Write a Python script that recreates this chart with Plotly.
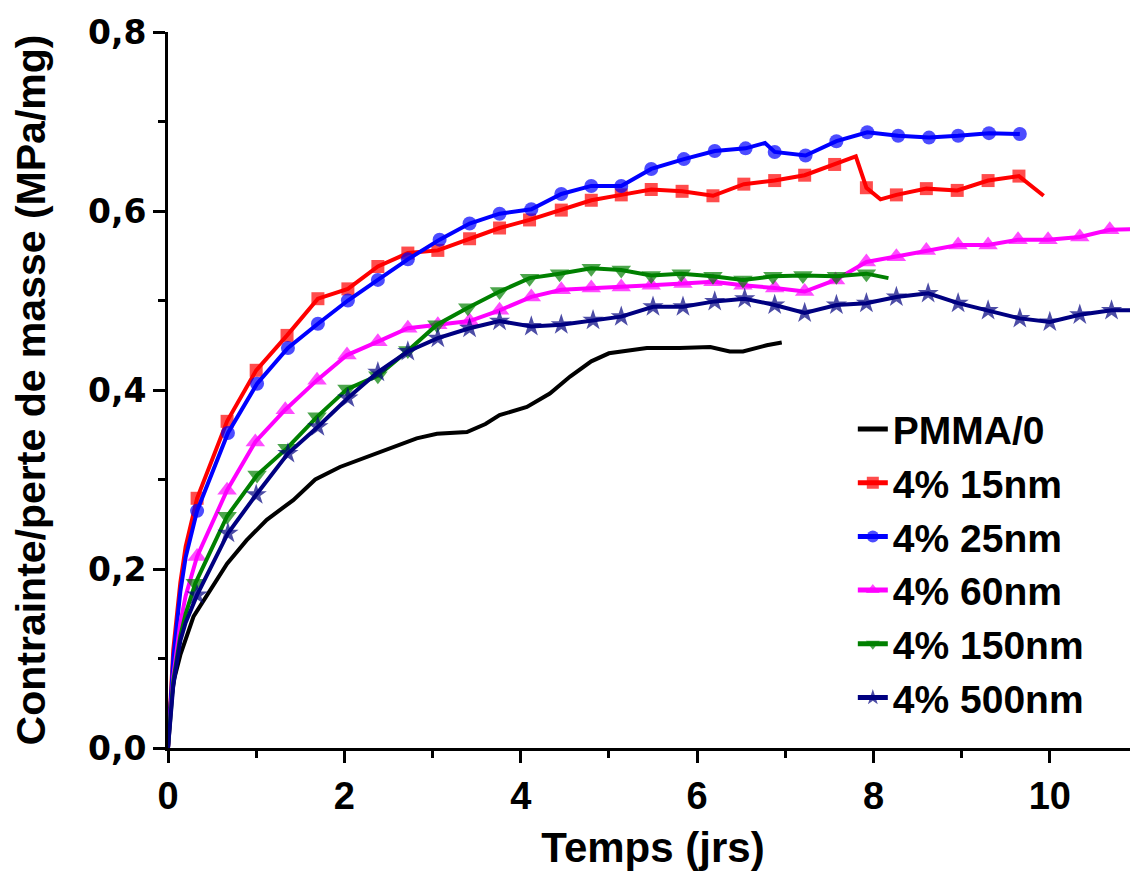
import plotly.graph_objects as go

# ---------------- data ----------------
series_names = ["PMMA/0", "4% 15nm", "4% 25nm", "4% 60nm", "4% 150nm", "4% 500nm"]

pmma_x = [0, 0.03, 0.07, 0.14, 0.29, 0.48, 0.67, 0.89, 1.12, 1.42, 1.67, 1.95, 2.25, 2.55,
          2.82, 3.05, 3.39, 3.60, 3.76, 4.07, 4.33, 4.56, 4.80, 5.00, 5.43, 5.80, 6.15, 6.37,
          6.52, 6.79, 6.96]
pmma_y = [0, 0.050, 0.077, 0.104, 0.147, 0.177, 0.206, 0.232, 0.255, 0.277, 0.300, 0.314,
          0.325, 0.335, 0.346, 0.351, 0.353, 0.362, 0.372, 0.381, 0.396, 0.415, 0.432, 0.441,
          0.447, 0.447, 0.448, 0.443, 0.443, 0.450, 0.453]

nm15_x = [0, 0.06, 0.14, 0.20, 0.33, 0.67, 1.00, 1.35, 1.70, 2.04, 2.38, 2.72, 3.06, 3.42,
          3.76, 4.10, 4.46, 4.80, 5.14, 5.48, 5.83, 6.18, 6.53, 6.88, 7.22, 7.56, 7.80, 7.92,
          8.08, 8.26, 8.60, 8.95, 9.30, 9.65, 9.93]
nm15_y = [0, 0.110, 0.185, 0.225, 0.279, 0.365, 0.422, 0.461, 0.502, 0.513, 0.538, 0.553,
          0.556, 0.569, 0.581, 0.590, 0.601, 0.612, 0.618, 0.624, 0.622, 0.617, 0.630, 0.634,
          0.640, 0.652, 0.661, 0.626, 0.613, 0.618, 0.625, 0.623, 0.634, 0.639, 0.617]

nm25_x = [0, 0.06, 0.14, 0.20, 0.33, 0.68, 1.01, 1.36, 1.70, 2.04, 2.38, 2.72, 3.08, 3.42,
          3.76, 4.12, 4.46, 4.80, 5.14, 5.48, 5.85, 6.20, 6.55, 6.77, 6.88, 7.23, 7.58, 7.93,
          8.28, 8.63, 8.96, 9.31, 9.66]
nm25_y = [0, 0.100, 0.175, 0.213, 0.265, 0.352, 0.407, 0.447, 0.474, 0.500, 0.523, 0.546,
          0.568, 0.586, 0.597, 0.602, 0.619, 0.628, 0.628, 0.647, 0.658, 0.667, 0.670, 0.676,
          0.666, 0.662, 0.678, 0.688, 0.684, 0.682, 0.684, 0.687, 0.686]

nm60_x = [0, 0.06, 0.14, 0.20, 0.33, 0.67, 0.99, 1.33, 1.69, 2.03, 2.38, 2.72, 3.06, 3.42,
          3.76, 4.12, 4.46, 4.80, 5.14, 5.48, 5.84, 6.18, 6.52, 6.88, 7.22, 7.57, 7.92, 8.26,
          8.60, 8.96, 9.30, 9.64, 9.98, 10.34, 10.68, 11.10]
nm60_y = [0, 0.080, 0.140, 0.170, 0.214, 0.288, 0.342, 0.378, 0.411, 0.439, 0.454, 0.469,
          0.473, 0.477, 0.489, 0.504, 0.512, 0.514, 0.515, 0.517, 0.519, 0.521, 0.517, 0.514,
          0.510, 0.523, 0.543, 0.549, 0.556, 0.562, 0.562, 0.568, 0.568, 0.571, 0.579, 0.580]

nm150_x = [0, 0.06, 0.14, 0.20, 0.31, 0.67, 1.01, 1.35, 1.69, 2.03, 2.38, 2.72, 3.05, 3.40,
           3.76, 4.10, 4.44, 4.80, 5.14, 5.48, 5.82, 6.18, 6.52, 6.86, 7.20, 7.58, 7.92, 8.17]
nm150_y = [0, 0.075, 0.125, 0.150, 0.184, 0.259, 0.305, 0.335, 0.370, 0.401, 0.416, 0.444,
           0.473, 0.492, 0.510, 0.525, 0.530, 0.536, 0.534, 0.528, 0.530, 0.527, 0.523, 0.527,
           0.528, 0.527, 0.530, 0.525]

nm500_x = [0, 0.06, 0.14, 0.20, 0.33, 0.68, 1.00, 1.36, 1.70, 2.04, 2.38, 2.72, 3.06, 3.42,
           3.76, 4.12, 4.46, 4.82, 5.14, 5.50, 5.84, 6.20, 6.54, 6.88, 7.22, 7.58, 7.92, 8.26,
           8.62, 8.96, 9.30, 9.66, 10.00, 10.34, 10.70, 11.10]
nm500_y = [0, 0.070, 0.120, 0.140, 0.171, 0.240, 0.283, 0.329, 0.359, 0.391, 0.420, 0.443,
           0.458, 0.469, 0.477, 0.471, 0.473, 0.478, 0.482, 0.493, 0.493, 0.499, 0.502, 0.495,
           0.486, 0.495, 0.497, 0.504, 0.508, 0.497, 0.489, 0.480, 0.476, 0.484, 0.489, 0.489]

x_tick_vals = [0, 2, 4, 6, 8, 10]
x_tick_text = ["0", "2", "4", "6", "8", "10"]
y_tick_vals = [0.0, 0.2, 0.4, 0.6, 0.8]
y_tick_text = ["0,0", "0,2", "0,4", "0,6", "0,8"]

# ---------------- styling ----------------
FONT = "Liberation Sans, Arial, sans-serif"
WIDE_FONT = "DejaVu Sans, Verdana, sans-serif"
MARKER_START = 0.33
MARKER_STEP = 0.3445


def marker_sizes(xs, size):
    out = []
    for x in xs:
        k = round((x - MARKER_START) / MARKER_STEP)
        on = x > 0.25 and abs(x - (MARKER_START + k * MARKER_STEP)) <= 0.04
        out.append(size if on else 0)
    return out


styles = [
    (pmma_x, pmma_y, "#000000", None, 0, 4.0),
    (nm15_x, nm15_y, "#ff0000", "square", 13, 4.0),
    (nm25_x, nm25_y, "#0000ff", "circle", 14, 4.0),
    (nm60_x, nm60_y, "#ff00ff", "triangle-up", 17, 4.0),
    (nm150_x, nm150_y, "#008000", "triangle-down", 17, 4.0),
    (nm500_x, nm500_y, "#000080", "star", 16, 4.0),
]

fig = go.Figure()
for name, (xs, ys, color, symbol, msize, lw) in zip(series_names, styles):
    if symbol is None:
        fig.add_trace(go.Scatter(x=xs, y=ys, name=name, mode="lines",
                                 line=dict(color=color, width=lw)))
    else:
        fig.add_trace(go.Scatter(
            x=xs, y=ys, name=name, mode="lines+markers",
            line=dict(color=color, width=lw),
            marker=dict(symbol=symbol, size=marker_sizes(xs, msize), color=color,
                        line=dict(width=0)),
        ))

axis_common = dict(
    showgrid=False, zeroline=False, showline=True, linecolor="black", linewidth=3,
    ticks="outside", ticklen=12, tickwidth=3, tickcolor="black", automargin=False,
)

# the page body adds an 8 px offset, so the figure is 8 px smaller than the window
fig.update_layout(
    width=1130, height=863,
    margin=dict(l=160, r=0, t=24, b=123),
    paper_bgcolor="white", plot_bgcolor="white",
    xaxis=dict(range=[0, 11], tickvals=x_tick_vals, ticktext=x_tick_text,
               tickfont=dict(family=FONT, size=38, color="black", weight="bold"),
               minor=dict(dtick=1, tick0=0, ticks="outside", ticklen=7, tickwidth=2.5,
                          tickcolor="black"),
               title=dict(text="Temps (jrs)", standoff=28,
                          font=dict(family=FONT, size=42, color="black", weight="bold")),
               **axis_common),
    yaxis=dict(range=[0, 0.8], tickvals=y_tick_vals, ticktext=y_tick_text,
               tickfont=dict(family=WIDE_FONT, size=33, color="black", weight="bold"),
               minor=dict(dtick=0.1, tick0=0, ticks="outside", ticklen=7, tickwidth=2.5,
                          tickcolor="black"),
               title=dict(text="Contrainte/perte de masse (MPa/mg)", standoff=38,
                          font=dict(family=FONT, size=41, color="black", weight="bold")),
               **axis_common),
    legend=dict(x=0.706, y=0.49, xanchor="left", yanchor="top",
                bgcolor="rgba(0,0,0,0)", itemsizing="constant",
                font=dict(family=FONT, size=39, color="black", weight="bold"),
                tracegroupgap=0),
    showlegend=True,
)

fig.write_html("out.html")
